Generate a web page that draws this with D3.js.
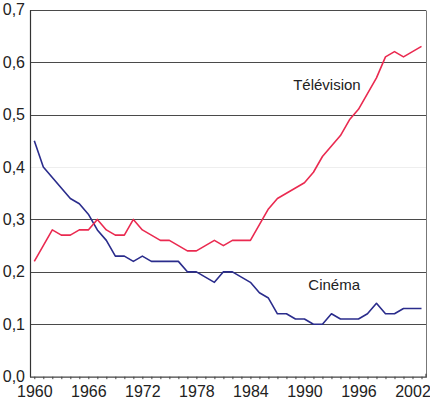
<!DOCTYPE html>
<html><head><meta charset="utf-8">
<script src="https://cdn.jsdelivr.net/npm/d3@7"></script>
<style>html,body{margin:0;padding:0;background:#fff;}svg{display:block;}</style>
</head><body>
<script>
const years = d3.range(1960, 2004);
const television = [0.22,0.25,0.28,0.27,0.27,0.28,0.28,0.30,0.28,0.27,
  0.27,0.30,0.28,0.27,0.26,0.26,0.25,0.24,0.24,0.25,
  0.26,0.25,0.26,0.26,0.26,0.29,0.32,0.34,0.35,0.36,
  0.37,0.39,0.42,0.44,0.46,0.49,0.51,0.54,0.57,0.61,
  0.62,0.61,0.62,0.63];
const cinema = [0.45,0.40,0.38,0.36,0.34,0.33,0.31,0.28,0.26,0.23,
  0.23,0.22,0.23,0.22,0.22,0.22,0.22,0.20,0.20,0.19,
  0.18,0.20,0.20,0.19,0.18,0.16,0.15,0.12,0.12,0.11,
  0.11,0.10,0.10,0.12,0.11,0.11,0.11,0.12,0.14,0.12,
  0.12,0.13,0.13,0.13];
const yTicks = [0,0.1,0.2,0.3,0.4,0.5,0.6,0.7];
const xLabels = [1960,1966,1972,1978,1984,1990,1996,2002];
const seriesLabels = [{name:"Télévision", year:1992.5, value:0.547}, {name:"Cinéma", year:1993.3, value:0.165}];

const W = 430, H = 403;
const pLeft = 30, pRight = 426, pTop = 9.7, pBottom = 376.7;
const svg = d3.select("body").append("svg").attr("width", W).attr("height", H);
const x = d3.scaleLinear().domain([1960, 2003]).range([34.3, 421.5]);
const y = d3.scaleLinear().domain([0, 0.7]).range([pBottom, pTop]);
const font = "'Liberation Sans', Arial, sans-serif";

// gridlines
svg.append("g").selectAll("line").data(yTicks.filter(d => d > 0)).join("line")
  .attr("x1", pLeft).attr("x2", pRight)
  .attr("y1", d => Math.round(y(d)) + 0.5).attr("y2", d => Math.round(y(d)) + 0.5)
  .attr("stroke", d => Math.abs(d - 0.4) < 1e-9 ? "#eeeeee" : "#4a4a4a")
  .attr("stroke-width", 1);

// right border
svg.append("line").attr("x1", pRight + 0.5).attr("x2", pRight + 0.5)
  .attr("y1", Math.round(y(0.7)) + 0.5).attr("y2", Math.round(y(0)) + 0.5)
  .attr("stroke", "#777").attr("stroke-width", 1);

// y axis
const yAxis = d3.axisLeft(y).tickValues(yTicks).tickSize(0).tickPadding(5)
  .tickFormat(d => d3.format(".1f")(d).replace(".", ","));
const gy = svg.append("g").attr("transform", `translate(${pLeft},0)`).call(yAxis);
gy.select(".domain").attr("stroke", "#333").attr("stroke-width", 1.2);
gy.selectAll("text").attr("font-family", font).attr("font-size", 16).attr("fill", "#222");

// x axis
const xAxis = d3.axisBottom(x).tickValues(years).tickSize(2.5).tickSizeOuter(0)
  .tickFormat(d => xLabels.includes(d) ? d : "");
const gx = svg.append("g").attr("transform", `translate(0,${pBottom})`).call(xAxis);
gx.select(".domain").attr("d", `M${pLeft},0.5H${pRight}V-3`).attr("stroke", "#444").attr("stroke-width", 1.2);
gx.selectAll(".tick line").attr("stroke", "#444");
gx.selectAll("text").attr("font-family", font).attr("font-size", 16).attr("fill", "#222").attr("dy", "0.95em");

// lines
const line = d3.line().x((d, i) => x(years[i])).y(d => y(d));
svg.append("path").datum(cinema).attr("d", line).attr("fill", "none")
  .attr("stroke", "#2a2c8c").attr("stroke-width", 1.6).attr("stroke-linejoin", "round");
svg.append("path").datum(television).attr("d", line).attr("fill", "none")
  .attr("stroke", "#ea2a50").attr("stroke-width", 1.6).attr("stroke-linejoin", "round");

// series labels
svg.append("g").selectAll("text").data(seriesLabels).join("text")
  .attr("x", d => x(d.year)).attr("y", d => y(d.value))
  .attr("text-anchor", "middle").attr("font-family", font).attr("font-size", 15).attr("fill", "#222")
  .text(d => d.name);
</script>
</body></html>
